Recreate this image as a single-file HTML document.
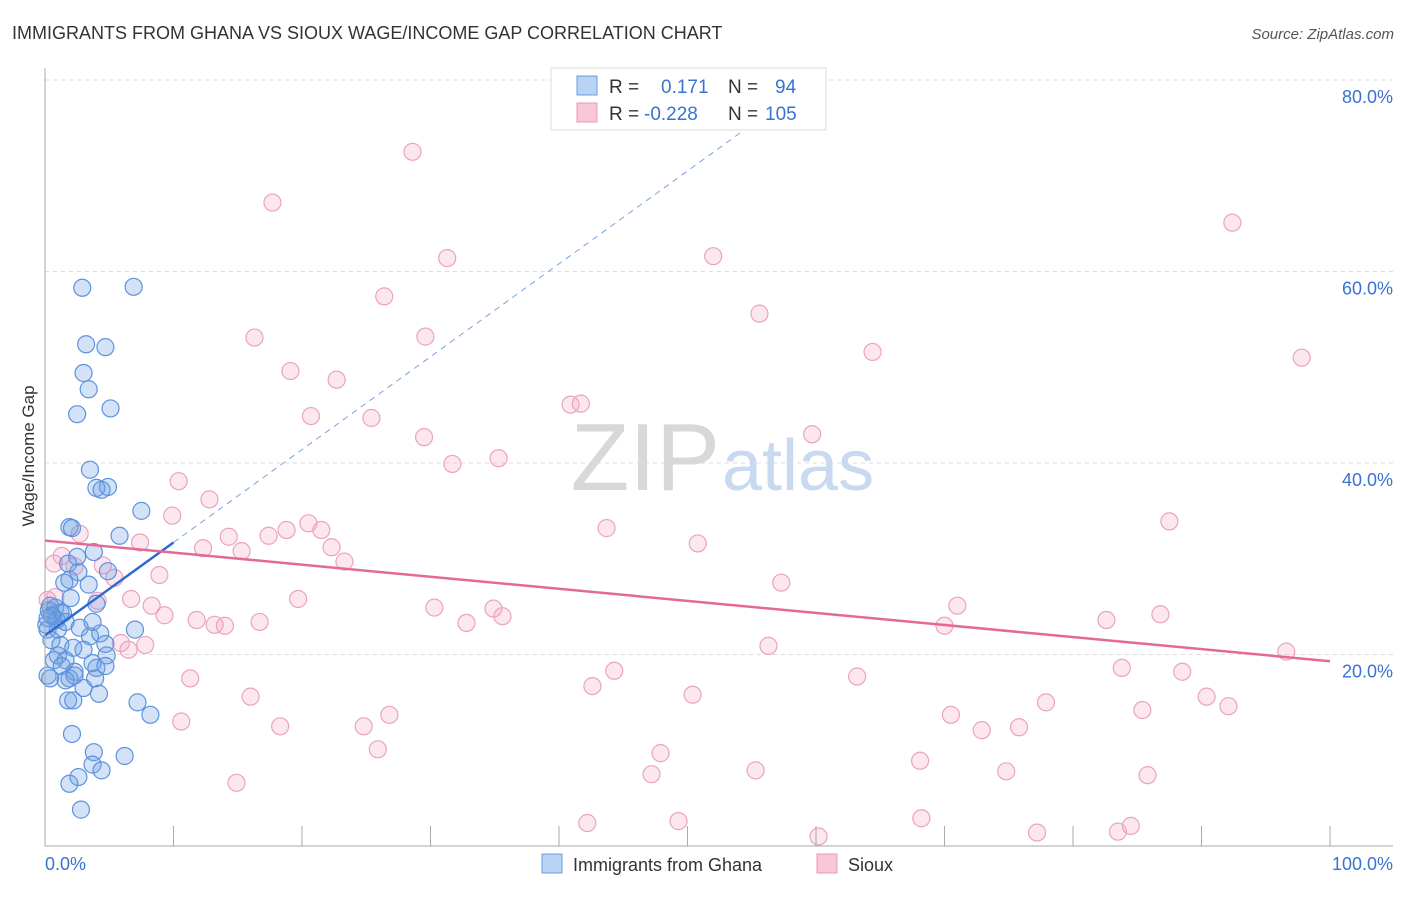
<!DOCTYPE html>
<html><head><meta charset="utf-8"><style>
body{margin:0;background:#fff;font-family:"Liberation Sans",sans-serif;}
svg text{font-family:"Liberation Sans",sans-serif;}
</style></head><body>
<svg id="chart" width="1406" height="892" xmlns="http://www.w3.org/2000/svg">
<text x="12" y="39" font-size="18" fill="#333">IMMIGRANTS FROM GHANA VS SIOUX WAGE/INCOME GAP CORRELATION CHART</text>
<text x="1394" y="39" font-size="15" fill="#555" text-anchor="end" font-style="italic">Source: ZipAtlas.com</text>
<g id="grid"></g>
<text x="720" y="490" font-size="96" text-anchor="end" fill="#d8d8d8" font-family="Liberation Serif">ZIP</text>
<text x="722" y="490" font-size="72" fill="#c9d9f0">atlas</text>
<g id="pink"></g>
<g id="blue"></g>
<g id="trends"></g>
<g id="axes"></g>
<text transform="translate(34,456) rotate(-90)" font-size="17" fill="#333" text-anchor="middle">Wage/Income Gap</text>
<g>
<rect x="551" y="68" width="275" height="62" fill="#fff" stroke="#ddd"/>
<rect x="577" y="76" width="20" height="19" fill="#b9d3f5" stroke="#6a9ee0"/>
<rect x="577" y="103" width="20" height="19" fill="#f8c6d6" stroke="#e89ab5"/>
<text x="609" y="93" font-size="19" fill="#333">R = </text><text x="661" y="93" font-size="19" fill="#3a72d0">0.171</text>
<text x="728" y="93" font-size="19" fill="#333">N = </text><text x="775" y="93" font-size="19" fill="#3a72d0">94</text>
<text x="609" y="120" font-size="19" fill="#333">R = </text><text x="644" y="120" font-size="19" fill="#3a72d0">-0.228</text>
<text x="728" y="120" font-size="19" fill="#333">N = </text><text x="765" y="120" font-size="19" fill="#3a72d0">105</text>
</g>
<g>
<rect x="542" y="854" width="20" height="19" fill="#b9d3f5" stroke="#6a9ee0"/>
<text x="573" y="871" font-size="18" fill="#333">Immigrants from Ghana</text>
<rect x="817" y="854" width="20" height="19" fill="#f8c6d6" stroke="#e89ab5"/>
<text x="848" y="871" font-size="18" fill="#333">Sioux</text>
</g>
</svg>
<script>
const yTicks=[20,40,60,80];
const yTickLabels=["20.0%","40.0%","60.0%","80.0%"];
const xTicks=[10,20,30,40,50,60,70,80,90,100];
const ghanaX=[2.9,6.9,3.2,4.7,3.0,3.4,2.5,5.1,3.5,4.0,4.9,4.4,7.5,1.9,2.1,5.8,3.8,2.5,1.8,2.6,1.9,4.9,1.5,3.4,2.0,4.0,0.8,1.2,0.4,0.5,0.9,1.4,0.1,0.2,1.0,1.6,3.7,2.7,3.5,4.3,4.7,7.0,0.5,1.2,2.2,3.0,1.0,1.6,4.8,0.7,1.3,3.7,2.3,4.0,4.7,1.9,2.3,1.6,3.9,3.0,4.2,1.8,2.2,7.2,8.2,2.1,3.8,6.2,3.7,4.4,2.6,1.9,2.8,0.2,0.4,0.3,0.6,0.2];
const ghanaY=[58.3,58.4,52.4,52.1,49.4,47.7,45.1,45.7,39.3,37.4,37.5,37.2,35.0,33.3,33.2,32.4,30.7,30.2,29.5,28.6,27.8,28.7,27.5,27.3,25.9,25.3,24.9,24.4,25.1,24.1,23.6,24.3,23.1,22.6,22.6,23.4,23.4,22.8,21.9,22.2,21.1,22.6,21.5,21.0,20.7,20.5,19.9,19.4,19.9,19.4,18.8,19.1,18.2,18.6,18.8,17.5,17.8,17.3,17.5,16.5,15.9,15.2,15.2,15.0,13.7,11.7,9.8,9.4,8.5,7.9,7.2,6.5,3.8,17.8,17.5,24.6,24.0,23.8];
const siouxX=[28.6,17.7,31.3,52.0,92.4,26.4,16.3,29.6,55.6,64.4,97.8,19.1,22.7,20.7,25.4,40.9,41.7,29.5,31.7,35.3,59.7,10.4,12.8,9.9,20.5,21.5,18.8,17.4,14.3,12.3,15.3,22.3,23.3,7.4,8.9,43.7,50.8,87.5,2.7,1.3,0.7,2.3,5.4,4.5,4.1,6.7,8.3,9.3,11.8,13.2,14.0,16.7,19.7,30.3,32.8,34.9,35.6,57.3,71.0,70.0,82.6,86.8,5.9,7.8,6.5,56.3,96.6,83.8,88.5,44.3,42.6,50.4,63.2,77.9,90.4,92.1,85.4,11.3,16.0,10.6,18.3,24.8,26.8,70.5,72.9,75.8,25.9,47.9,68.1,47.2,55.3,74.8,85.8,14.9,42.2,49.3,68.2,77.2,83.5,84.5,60.2,0.8,0.2];
const siouxY=[72.5,67.2,61.4,61.6,65.1,57.4,53.1,53.2,55.6,51.6,51.0,49.6,48.7,44.9,44.7,46.1,46.2,42.7,39.9,40.5,43.0,38.1,36.2,34.5,33.7,33.0,33.0,32.4,32.3,31.1,30.8,31.2,29.7,31.7,28.3,33.2,31.6,33.9,32.6,30.3,29.5,29.2,28.0,29.3,25.6,25.8,25.1,24.1,23.6,23.1,23.0,23.4,25.8,24.9,23.3,24.8,24.0,27.5,25.1,23.0,23.6,24.2,21.2,21.0,20.5,20.9,20.3,18.6,18.2,18.3,16.7,15.8,17.7,15.0,15.6,14.6,14.2,17.5,15.6,13.0,12.5,12.5,13.7,13.7,12.1,12.4,10.1,9.7,8.9,7.5,7.9,7.8,7.4,6.6,2.4,2.6,2.9,1.4,1.5,2.1,1.0,26.0,25.7];
const ghanaTrend=[22.0,0.97];   // intercept, slope
const siouxTrend=[31.9,-0.126];
const ghanaSolidEnd=10, ghanaDashEnd=55.6;

const NS="http://www.w3.org/2000/svg";
const X0=45,X1=1330,Y0=846,Y80=80;
const sx=v=>X0+(X1-X0)*v/100;
const sy=v=>Y0-(Y0-Y80)*v/80;
function mk(tag,attrs,parent){const e=document.createElementNS(NS,tag);for(const k in attrs)e.setAttribute(k,attrs[k]);parent.appendChild(e);return e;}
const grid=document.getElementById('grid');
yTicks.forEach((t,i)=>{
  const l=mk('line',{x1:X0,x2:1393,y1:sy(t),y2:sy(t),stroke:'#ddd','stroke-dasharray':'4,4'},grid);
  
  
  const tx=mk('text',{x:1393,y:sy(t)+23,'font-size':18,fill:'#3a72d0','text-anchor':'end'},grid);
  tx.textContent=yTickLabels[i];
  
  
});
const axes=document.getElementById('axes');
mk('line',{x1:X0,x2:X0,y1:68,y2:Y0,stroke:'#aaa'},axes);
mk('line',{x1:X0,x2:1393,y1:Y0,y2:Y0,stroke:'#aaa'},axes);
xTicks.forEach(t=>{const l=mk('line',{x1:sx(t),x2:sx(t),y1:Y0-20,y2:Y0,stroke:'#aaa'},axes);
  
  });
const xl0=mk('text',{x:45,y:870,'font-size':18,fill:'#3a72d0'},axes);xl0.textContent="0.0%";


const xl1=mk('text',{x:1393,y:870,'font-size':18,fill:'#3a72d0','text-anchor':'end'},axes);xl1.textContent="100.0%";


const pg=document.getElementById('pink');
siouxX.forEach((x,i)=>{const c=mk('circle',{cx:sx(x),cy:sy(siouxY[i]),r:8.5,fill:'rgba(244,160,190,0.25)',stroke:'#eba3bd','stroke-width':1.2},pg);
  
  });
const bg=document.getElementById('blue');
ghanaX.forEach((x,i)=>{const c=mk('circle',{cx:sx(x),cy:sy(ghanaY[i]),r:8.5,fill:'rgba(110,160,230,0.3)',stroke:'#5d93dc','stroke-width':1.2},bg);
  
  });
const tg=document.getElementById('trends');
const gy=x=>ghanaTrend[0]+ghanaTrend[1]*x, py=x=>siouxTrend[0]+siouxTrend[1]*x;
const t1=mk('line',{x1:sx(ghanaSolidEnd),y1:sy(gy(ghanaSolidEnd)),x2:sx(ghanaDashEnd),y2:sy(gy(ghanaDashEnd)),stroke:'#7aa3e0','stroke-width':1,'stroke-dasharray':'6,5'},tg);


const t2=mk('line',{x1:sx(0),y1:sy(gy(0)),x2:sx(ghanaSolidEnd),y2:sy(gy(ghanaSolidEnd)),stroke:'#2f6ad0','stroke-width':2.5},tg);


const t3=mk('line',{x1:sx(0),y1:sy(py(0)),x2:sx(100),y2:sy(py(100)),stroke:'#e46a95','stroke-width':2.5},tg);


</script>
</body></html>
